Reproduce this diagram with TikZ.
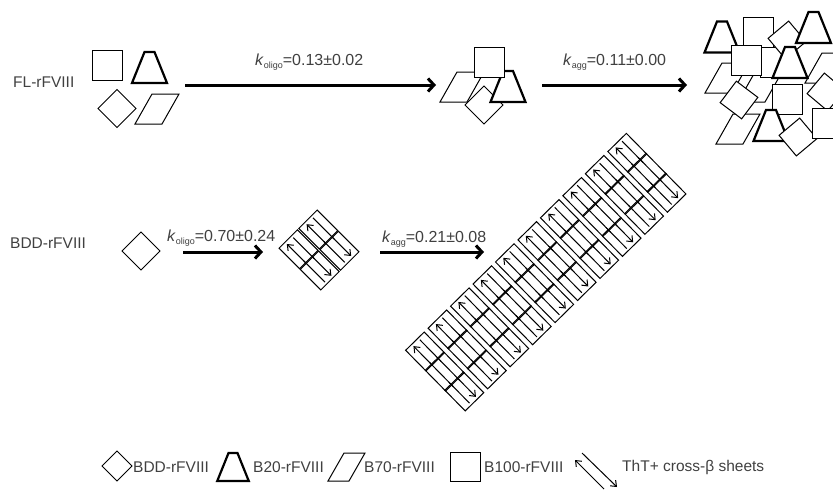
\documentclass[tikz,border=0pt]{standalone}
\usepackage{fontspec}
\setmainfont{Liberation Sans}
\usetikzlibrary{arrows.meta}
\definecolor{txt}{HTML}{404040}
% shapes: #1,#2 centre, #3 rotation, #4 scale
\newcommand\shpsq[4]{\begin{scope}[shift={(#1,#2)},rotate=#3,scale=#4]
  \draw[shp] (-15,-15) rectangle (15,15);\end{scope}}
\newcommand\shptrap[4]{\begin{scope}[shift={(#1,#2)},rotate=#3,scale=#4]
  \draw[boldshp] (-5,-15.5) -- (5,-15.5) -- (17.5,15.5) -- (-17.5,15.5) -- cycle;\end{scope}}
\newcommand\shpdia[4]{\begin{scope}[shift={(#1,#2)},rotate=#3,scale=#4]
  \draw[shp] (0,-19) -- (19,0) -- (0,19) -- (-19,0) -- cycle;\end{scope}}
\newcommand\shppara[4]{\begin{scope}[shift={(#1,#2)},rotate=#3,scale=#4]
  \draw[shp] (-5,-15) -- (22,-15) -- (5,15) -- (-22,15) -- cycle;\end{scope}}
% beta-sheet cells (used inside rotated scopes)
\newcommand\cellU[2]{\begin{scope}[shift={(#1,#2)}]
  \draw[cellline] (-13,-14.5) rectangle (13,14.5);
  \draw[celltip] (-4.5,14) -- (-4.5,-12);
  \draw[cellline] (4.5,-12) -- (4.5,18);\end{scope}}
\newcommand\cellD[2]{\begin{scope}[shift={(#1,#2)}]
  \draw[cellline] (-13,-14.5) rectangle (13,14.5);
  \draw[celltip] (4.5,-14) -- (4.5,12);
  \draw[cellline] (-4.5,-18) -- (-4.5,12);\end{scope}}
\newcommand\cellM[2]{\begin{scope}[shift={(#1,#2)}]
  \draw[cellline] (-13,-14.5) rectangle (13,14.5);
  \draw[cellline] (-4.5,-17) -- (-4.5,17);
  \draw[cellline] (4.5,-17) -- (4.5,17);\end{scope}}
\begin{document}
\begin{tikzpicture}[x=1pt,y=-1pt,
  shp/.style={draw=black, fill=white, line width=1pt, line join=miter},
  boldshp/.style={shp, line width=2.2pt},
  cellline/.style={line width=1pt},
  celltip/.style={line width=1pt, -{Straight Barb[length=5pt,width=8pt]}},
  bigarrow/.style={line width=3pt, -{Straight Barb[length=6pt,width=13pt]}},
  lbl/.style={text=txt, font=\fontsize{16}{16}\selectfont, inner sep=0pt, anchor=base west},
  rowname/.style={text=txt, font=\fontsize{15.5}{16}\selectfont, inner sep=0pt, anchor=west},
  legtext/.style={text=txt, font=\fontsize{15.5}{16}\selectfont, inner sep=0pt, anchor=west},
]
\useasboundingbox (0,0) rectangle (833,490);
\clip (0,0) rectangle (833,490);

% ---------- row 1 : FL-rFVIII ----------
\node[rowname] (fl) at (13,82) {FL-rFVIII};
\shpsq{107.5}{65}{0}{1}
\shptrap{149.5}{67.5}{0}{1}
\shpdia{117}{108.5}{0}{1}
\shppara{157}{109}{0}{1}

\coordinate (a1s) at (185,85);
\coordinate (a1e) at (436,85);
\draw[bigarrow] (a1s) -- (a1e);
\node[lbl] (k1) at (255,65) {\textit{k}\raisebox{-3.5pt}{\fontsize{9}{9}\selectfont oligo}=0.13±0.02};

% oligomer
\shppara{462}{87}{0}{1}
\shpdia{484}{105}{0}{1}
\shptrap{508}{86.5}{0}{1}
\shpsq{489}{62}{0}{1}

\coordinate (a2s) at (542,85);
\coordinate (a2e) at (687,85);
\draw[bigarrow] (a2s) -- (a2e);
\node[lbl] (k2) at (563,65) {\textit{k}\raisebox{-3.5pt}{\fontsize{9}{9}\selectfont agg}=0.11±0.00};

% aggregate
\shppara{727}{78}{0}{1}
\shppara{760}{87}{0}{1}
\shppara{738}{129}{0}{1}
\shpdia{739}{100}{8}{1}
\shpsq{775}{62}{0}{1}
\shpsq{758}{32}{0}{1}
\shptrap{722}{37}{0}{1}
\shpdia{787}{40}{-5}{1}
\shptrap{813.5}{27.5}{0}{1}
\shpsq{746}{60}{0}{1}
\shppara{827}{68}{0}{1}
\shptrap{790}{62.5}{0}{1}
\shpdia{826}{92}{5}{1}
\shpsq{787}{99}{0}{1}
\shptrap{771}{125.5}{0}{1}
\shpdia{798}{137}{-5}{1}
\shpsq{827}{123}{0}{1}

% ---------- row 2 : BDD-rFVIII ----------
\node[rowname] (bdd) at (10,243) {BDD-rFVIII};
\shpdia{141}{251}{0}{1}

\coordinate (b1s) at (183,252);
\coordinate (b1e) at (263,252);
\draw[bigarrow] (b1s) -- (b1e);
\node[lbl] (k3) at (167,241) {\textit{k}\raisebox{-3.5pt}{\fontsize{9}{9}\selectfont oligo}=0.70±0.24};

\begin{scope}[shift={(319,250)}, rotate=45]
  \cellU{-14}{-15}
  \cellU{14}{-15}
  \cellD{-14}{15}
  \cellD{14}{15}
\end{scope}

\coordinate (b2s) at (380,252);
\coordinate (b2e) at (484,252);
\draw[bigarrow] (b2s) -- (b2e);
\node[lbl] (k4) at (382,242) {\textit{k}\raisebox{-3.5pt}{\fontsize{9}{9}\selectfont agg}=0.21±0.08};

% fibril
\begin{scope}[shift={(434,382)}, rotate=44.5]
  \foreach \j in {0,...,9} {
    \cellU{31.5*\j+15}{-28}
    \cellM{31.5*\j+15}{0}
    \cellD{31.5*\j+15}{28}
  }
\end{scope}

% ---------- legend ----------
\shpdia{117}{466}{0}{0.79}
\node[legtext] (lg1) at (133,467) {BDD-rFVIII};
\shptrap{233}{467}{0}{0.9}
\node[legtext] (lg2) at (253,467) {B20-rFVIII};
\draw[shp] (344,453) -- (365,453) -- (349,481) -- (328,481) -- cycle;
\node[legtext] (lg3) at (364,467) {B70-rFVIII};
\draw[shp] (450,452) rectangle (480,481);
\node[legtext] (lg4) at (484,467) {B100-rFVIII};
\coordinate (l1s) at (582,453);
\coordinate (l1e) at (617,487);
\coordinate (l2s) at (604,489);
\coordinate (l2e) at (575,460);
\draw[celltip] (l1s) -- (l1e);
\draw[celltip] (l2s) -- (l2e);
\node[legtext] (lg5) at (622,467) {ThT+ cross-β sheets};
\end{tikzpicture}
\end{document}
